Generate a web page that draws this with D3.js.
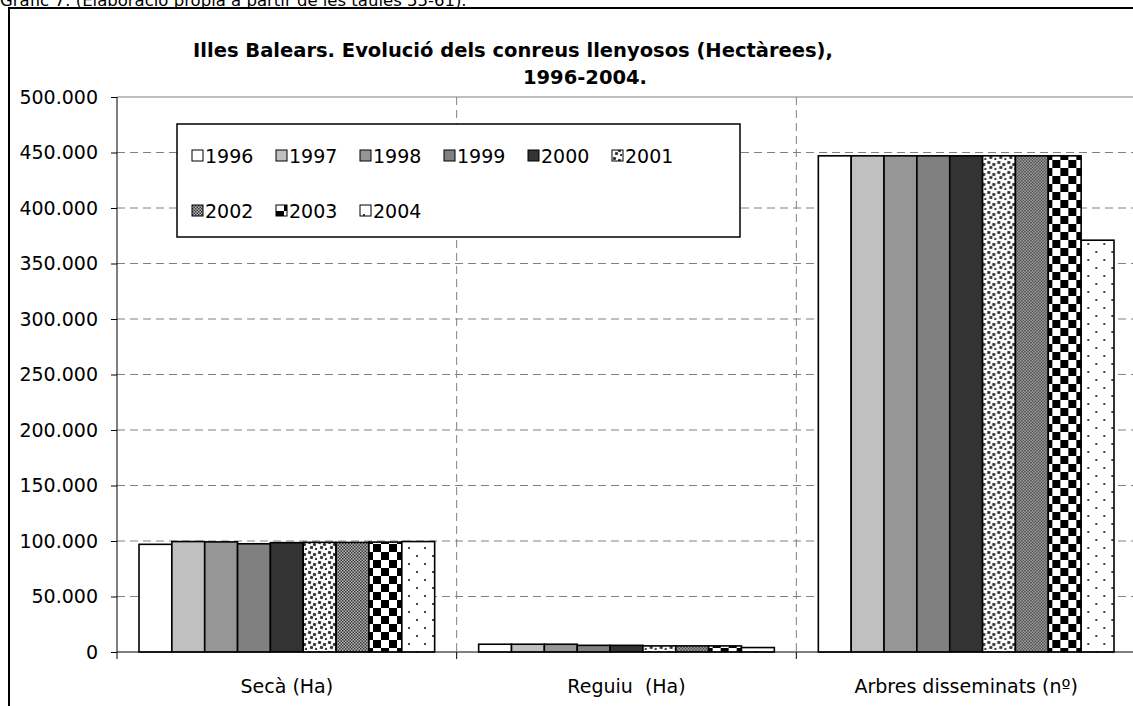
<!DOCTYPE html>
<html><head><meta charset="utf-8">
<script src="https://cdn.jsdelivr.net/npm/d3@7"></script>
<style>
body{margin:0;background:#fff;overflow:hidden}
svg{display:block}
text{font-family:"DejaVu Sans",Verdana,sans-serif;fill:#000;white-space:pre}
</style></head><body>
<svg id="c" width="1133" height="706"></svg>
<script>
const categories = ["Secà (Ha)", "Reguiu  (Ha)", "Arbres disseminats (nº)"];
const years = ["1996","1997","1998","1999","2000","2001","2002","2003","2004"];
const seca   = [97000, 99500, 99200, 97500, 98500, 98800, 98700, 99000, 99500];
const reguiu = [7000, 7000, 7000, 6000, 6000, 5500, 5500, 5500, 4000];
const arbres = [447000, 447000, 447000, 447000, 447000, 447000, 447000, 447000, 371000];
const yTicks = [0,50000,100000,150000,200000,250000,300000,350000,400000,450000,500000];
const titleLines = ["Illes Balears. Evolució dels conreus llenyosos (Hectàrees),", "1996-2004."];
const caption = "Gràfic 7: (Elaboració pròpia a partir de les taules 55-61).";

const seriesValues = [seca, reguiu, arbres];
const fills = ["#ffffff","#c0c0c0","#969696","#808080","#333333","url(#p2001)","url(#p2002)","url(#p2003)","url(#p2004)"];

const svg = d3.select("#c");
const defs = svg.append("defs");
// 2001: scattered small squares
let p = defs.append("pattern").attr("id","p2001").attr("patternUnits","userSpaceOnUse").attr("width",10).attr("height",10);
p.append("rect").attr("width",10).attr("height",10).attr("fill","#fff");
[[1,1],[6,3],[3,6],[8,8]].forEach(([x,y])=>p.append("rect").attr("x",x).attr("y",y).attr("width",3).attr("height",3).attr("fill","#333").attr("transform",`rotate(15 ${x+1.5} ${y+1.5})`));
// 2002: fine checker
p = defs.append("pattern").attr("id","p2002").attr("patternUnits","userSpaceOnUse").attr("width",3).attr("height",3);
p.append("rect").attr("width",3).attr("height",3).attr("fill","#bbb");
p.append("rect").attr("width",1.5).attr("height",1.5).attr("fill","#333");
p.append("rect").attr("x",1.5).attr("y",1.5).attr("width",1.5).attr("height",1.5).attr("fill","#333");
// 2003: big checker
p = defs.append("pattern").attr("id","p2003").attr("patternUnits","userSpaceOnUse").attr("width",16).attr("height",16);
p.append("rect").attr("width",16).attr("height",16).attr("fill","#fff");
p.append("rect").attr("width",8).attr("height",8).attr("fill","#000");
p.append("rect").attr("x",8).attr("y",8).attr("width",8).attr("height",8).attr("fill","#000");
// 2004: sparse dots
p = defs.append("pattern").attr("id","p2004").attr("patternUnits","userSpaceOnUse").attr("width",16).attr("height",16);
p.append("rect").attr("width",16).attr("height",16).attr("fill","#fff");
p.append("rect").attr("x",3).attr("y",3).attr("width",2).attr("height",2).attr("fill","#444");
p.append("rect").attr("x",11).attr("y",11).attr("width",2).attr("height",2).attr("fill","#444");

// caption (clipped at top, as in the reference)
svg.append("text").attr("x",0).attr("y",6).attr("font-size",16.5).text(caption);
// outer frame
svg.append("rect").attr("x",9).attr("y",8).attr("width",1140).attr("height",720)
  .attr("fill","#fff").attr("stroke","#000").attr("stroke-width",2);

const L = 117, R = 1136, T = 97, B = 652;
const x = d3.scaleBand().domain(categories).range([L,R]).padding(0);
const xi = d3.scaleBand().domain(years).range([0,x.bandwidth()]).paddingInner(0).paddingOuter(0.67);
const y = d3.scaleLinear().domain([0,500000]).range([B,T]);
const loc = d3.formatLocale({decimal:",",thousands:".",grouping:[3],currency:["","€"]});
const fmt = loc.format(",");

// horizontal gridlines
svg.append("g").selectAll("line").data(yTicks.filter(d=>d>0)).join("line")
  .attr("x1",L).attr("x2",R).attr("y1",d=>y(d)).attr("y2",d=>y(d))
  .attr("stroke","#808080").attr("stroke-width",1)
  .attr("stroke-dasharray",d=>d===500000?null:"8,5");
// vertical gridlines
svg.append("g").selectAll("line").data(categories.slice(1).concat(["__end"])).join("line")
  .attr("x1",(d,i)=>L+(i+1)*x.bandwidth()).attr("x2",(d,i)=>L+(i+1)*x.bandwidth())
  .attr("y1",T).attr("y2",B)
  .attr("stroke","#808080").attr("stroke-dasharray","8,5");

// bars
const groups = svg.append("g").selectAll("g").data(categories).join("g")
  .attr("transform",d=>`translate(${x(d)},0)`);
groups.selectAll("rect").data((c,ci)=>years.map((yr,i)=>({yr,i,v:seriesValues[ci][i]}))).join("rect")
  .attr("x",d=>xi(d.yr)).attr("width",xi.bandwidth())
  .attr("y",d=>y(d.v)).attr("height",d=>B-y(d.v))
  .attr("fill",d=>fills[d.i]).attr("stroke","#000").attr("stroke-width",1.6);

// y axis
const ya = svg.append("g").attr("transform",`translate(${L},0)`)
  .call(d3.axisLeft(y).tickValues(yTicks).tickFormat(fmt).tickSize(6).tickPadding(13));
ya.select(".domain").attr("stroke","#000").attr("d",`M0,${T}V${B}`);
ya.selectAll(".tick line").attr("stroke","#000");
ya.selectAll("text").attr("font-size",19).attr("font-family","DejaVu Sans").attr("fill","#000");

// x axis
svg.append("line").attr("x1",L).attr("x2",R).attr("y1",B).attr("y2",B).attr("stroke","#000");
const xa = svg.append("g").attr("transform",`translate(0,${B})`)
  .call(d3.axisBottom(x).tickSize(0).tickPadding(28));
xa.select(".domain").remove();
xa.selectAll("text").attr("font-size",19).attr("font-family","DejaVu Sans").attr("fill","#000");
svg.append("g").selectAll("line").data([0,1,2,3]).join("line")
  .attr("x1",i=>L+i*x.bandwidth()).attr("x2",i=>L+i*x.bandwidth())
  .attr("y1",B).attr("y2",B+7).attr("stroke","#000");

// title
const titleCx = [513, 585];
svg.append("g").selectAll("text").data(titleLines).join("text")
  .attr("x",(d,i)=>titleCx[i]).attr("y",(d,i)=>57+i*27).attr("text-anchor","middle")
  .attr("font-size",19.5).attr("font-weight","bold").text(d=>d);

// legend
const lg = svg.append("g");
lg.append("rect").attr("x",177).attr("y",124).attr("width",563).attr("height",113)
  .attr("fill","#fff").attr("stroke","#000").attr("stroke-width",1.5);
const li = lg.selectAll("g").data(years).join("g")
  .attr("transform",(d,i)=>`translate(${192+(i%6)*84},${i<6?156:211})`);
li.append("rect").attr("x",0).attr("y",-6).attr("width",11).attr("height",11)
  .attr("fill",(d,i)=>fills[i]).attr("stroke","#000").attr("stroke-width",1);
li.append("text").attr("x",13).attr("y",7).attr("font-size",19).text(d=>d);
</script></body></html>
